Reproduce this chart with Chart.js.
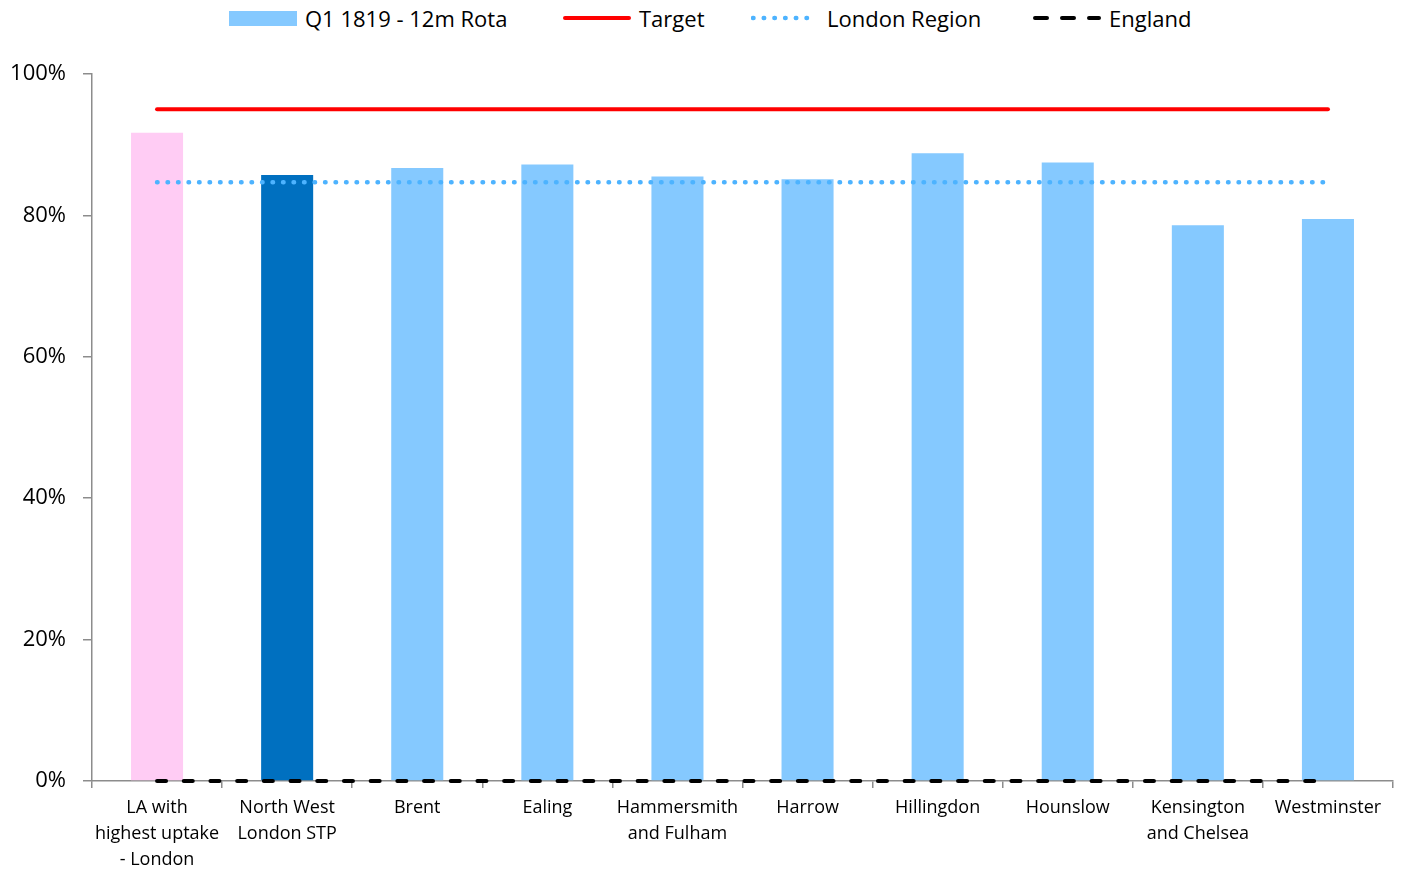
<!DOCTYPE html>
<html>
<head>
<meta charset="utf-8">
<script src="https://cdn.jsdelivr.net/npm/chart.js@4.4.1/dist/chart.umd.min.js"></script>
<style>
  html, body { margin: 0; padding: 0; background: #fff; }
  #wrap { position: relative; width: 1405px; height: 870px; font-family: "Open Sans", sans-serif; }
  #legend { position: absolute; top: 4px; left: 0; height: 28px; font-size: 22px; color: #000; }
  #legend .item { position: absolute; top: 0; display: flex; align-items: center; height: 28px; white-space: nowrap; }
  #legend svg { margin-right: 8px; }
  canvas { position: absolute; top: 0; left: 0; }
</style>
</head>
<body>
<div id="wrap">
  <div id="legend"></div>
  <canvas id="chart" width="1405" height="870"></canvas>
</div>
<script>
const categories = [
  ['LA with', 'highest uptake', '- London'],
  ['North West', 'London STP'],
  'Brent',
  'Ealing',
  ['Hammersmith', 'and Fulham'],
  'Harrow',
  'Hillingdon',
  'Hounslow',
  ['Kensington', 'and Chelsea'],
  'Westminster'
];
const rotaValues = [91.7, 85.7, 86.7, 87.2, 85.5, 85.1, 88.8, 87.5, 78.6, 79.5];
const targetValues = [95, 95, 95, 95, 95, 95, 95, 95, 95, 95];
const londonValues = [84.7, 84.7, 84.7, 84.7, 84.7, 84.7, 84.7, 84.7, 84.7, 84.7];
const englandValues = [0, 0, 0, 0, 0, 0, 0, 0, 0, 0];
const yTicks = [0, 20, 40, 60, 80, 100];

const barColors = ['#FFCCF4', '#0070C0', '#85C9FF', '#85C9FF', '#85C9FF', '#85C9FF', '#85C9FF', '#85C9FF', '#85C9FF', '#85C9FF'];

const datasets = [
  {
    type: 'bar',
    label: 'Q1 1819 - 12m Rota',
    data: rotaValues,
    backgroundColor: barColors,
    barPercentage: 0.4,
    categoryPercentage: 1.0,
    order: 1,
  },
  {
    type: 'line',
    label: 'Target',
    data: targetValues,
    borderColor: '#FF0000',
    borderWidth: 4,
    borderCapStyle: 'round',
    pointRadius: 0,
    clip: false,
    order: 0,
  },
  {
    type: 'line',
    label: 'London Region',
    data: londonValues,
    borderColor: '#4DB3FF',
    borderWidth: 4.5,
    borderDash: [0.5, 10],
    borderCapStyle: 'round',
    pointRadius: 0,
    clip: false,
    order: 0,
  },
  {
    type: 'line',
    label: 'England',
    data: englandValues,
    borderColor: '#000000',
    borderWidth: 4,
    borderDash: [9, 17.7],
    borderCapStyle: 'round',
    pointRadius: 0,
    clip: false,
    order: 0,
  },
];

// html legend, swatches drawn as small svgs, placed where the reference has them
const swatches = [
  '<rect x="0" y="7" width="68" height="15" fill="#85C9FF"/>',
  '<line x1="2" y1="14" x2="66" y2="14" stroke="#FF0000" stroke-width="4" stroke-linecap="round"/>',
  '<line x1="2" y1="14" x2="66" y2="14" stroke="#4DB3FF" stroke-width="4.5" stroke-linecap="round" stroke-dasharray="0.5 10.2"/>',
  '<line x1="2" y1="14" x2="66" y2="14" stroke="#000" stroke-width="4" stroke-linecap="round" stroke-dasharray="12 15"/>',
];
const legendLeft = [229, 563, 751, 1033];
document.getElementById('legend').innerHTML = datasets.map((d, i) => `
  <div class="item" style="left:${legendLeft[i]}px"><svg width="68" height="28">${swatches[i]}</svg><span>${d.label}</span></div>`).join('');

const axisColor = '#8C8C8C';

new Chart(document.getElementById('chart'), {
  data: { labels: categories, datasets },
  options: {
    responsive: false,
    animation: false,
    layout: { padding: { top: 74, right: 12, bottom: 0, left: 0 } },
    plugins: { legend: { display: false }, tooltip: { enabled: false } },
    scales: {
      x: {
        grid: { drawOnChartArea: false, drawTicks: true, tickLength: 7, color: axisColor, lineWidth: 1.5, offset: true },
        border: { color: axisColor, width: 1.5 },
        ticks: {
          autoSkip: false,
          maxRotation: 0,
          padding: 7,
          color: '#000',
          font: { family: 'Open Sans', size: 18, lineHeight: 1.45 },
        },
        afterFit: s => { s.height = 89; },
      },
      y: {
        min: 0,
        max: 100,
        grid: { drawOnChartArea: false, drawTicks: true, tickLength: 9, color: axisColor, lineWidth: 1.5 },
        border: { color: axisColor, width: 1.5 },
        afterBuildTicks: s => { s.ticks = yTicks.map(v => ({ value: v })); },
        ticks: {
          padding: 17,
          color: '#000',
          font: { family: 'Open Sans', size: 22 },
          callback: v => v + '%',
        },
        afterFit: s => { s.width = 92; },
      },
    },
  },
});
</script>
</body>
</html>
